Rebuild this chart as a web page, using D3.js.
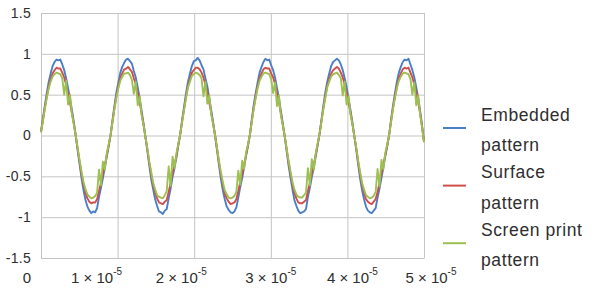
<!DOCTYPE html>
<html>
<head>
<meta charset="utf-8">
<script src="https://cdn.jsdelivr.net/npm/d3@7"></script>
<style>
  html, body { margin: 0; padding: 0; background: #fff; }
  svg { display: block; font-family: "Liberation Sans", Arial, sans-serif; }
</style>
</head>
<body>
<div id="chart"></div>
<script>
// ==========================================
// DATA (sampled waveform, 199 points over 0 .. 5e-5 s)
// ==========================================
const tStart = 0;
const tEnd = 5e-5;
const sampleCount = 199;

const seriesNames = ['Embedded pattern', 'Surface pattern', 'Screen print pattern'];
const legendLines = [['Embedded', 'pattern'], ['Surface', 'pattern'], ['Screen print', 'pattern']];

const embedded = [
  0.05,0.21,0.37,0.52,0.66,0.76,0.85,0.90,0.93,0.92,0.93,0.87,0.80,0.70,0.58,0.45,0.31,0.16,
  -0.01,-0.19,-0.36,-0.53,-0.67,-0.79,-0.87,-0.92,-0.95,-0.93,-0.94,-0.89,-0.75,-0.64,-0.52,-0.39,-0.26,-0.13,
  0.01,0.19,0.37,0.53,0.65,0.77,0.84,0.89,0.93,0.94,0.91,0.88,0.79,0.71,0.59,0.46,0.30,0.15,
  -0.02,-0.19,-0.37,-0.54,-0.66,-0.78,-0.86,-0.93,-0.94,-0.96,-0.92,-0.90,-0.77,-0.65,-0.51,-0.40,-0.27,-0.12,
  0.02,0.20,0.36,0.52,0.66,0.76,0.85,0.91,0.92,0.95,0.92,0.86,0.81,0.70,0.60,0.45,0.31,0.16,
  0.00,-0.18,-0.36,-0.53,-0.67,-0.78,-0.87,-0.91,-0.94,-0.95,-0.93,-0.88,-0.76,-0.63,-0.52,-0.39,-0.25,-0.13,
  0.01,0.20,0.38,0.52,0.65,0.77,0.84,0.90,0.94,0.92,0.93,0.86,0.80,0.71,0.58,0.46,0.30,0.15,
  -0.01,-0.19,-0.37,-0.52,-0.66,-0.79,-0.86,-0.92,-0.95,-0.94,-0.93,-0.90,-0.75,-0.64,-0.51,-0.40,-0.26,-0.12,
  0.02,0.19,0.37,0.53,0.66,0.76,0.85,0.90,0.92,0.94,0.92,0.87,0.80,0.70,0.59,0.45,0.31,0.16,
  -0.01,-0.18,-0.36,-0.53,-0.67,-0.78,-0.87,-0.92,-0.94,-0.95,-0.92,-0.89,-0.76,-0.65,-0.52,-0.39,-0.25,-0.13,
  0.01,0.20,0.37,0.52,0.66,0.77,0.84,0.90,0.93,0.92,0.94,0.87,0.80,0.71,0.59,0.46,0.30,0.12,-0.08
];

const surface = [
  0.04,0.19,0.34,0.48,0.60,0.69,0.76,0.80,0.83,0.82,0.82,0.77,0.71,0.62,0.52,0.40,0.27,0.14,
  -0.01,-0.17,-0.33,-0.48,-0.60,-0.70,-0.77,-0.81,-0.83,-0.82,-0.82,-0.78,-0.68,-0.58,-0.47,-0.36,-0.24,-0.12,
  0.01,0.18,0.34,0.49,0.60,0.70,0.76,0.81,0.82,0.84,0.81,0.78,0.70,0.63,0.52,0.41,0.27,0.13,
  -0.02,-0.17,-0.34,-0.48,-0.61,-0.70,-0.77,-0.82,-0.83,-0.84,-0.81,-0.79,-0.69,-0.58,-0.46,-0.36,-0.25,-0.11,
  0.02,0.18,0.33,0.48,0.61,0.69,0.77,0.80,0.83,0.83,0.81,0.77,0.71,0.62,0.53,0.40,0.28,0.14,
  0.00,-0.16,-0.33,-0.48,-0.60,-0.71,-0.77,-0.81,-0.84,-0.83,-0.82,-0.78,-0.68,-0.57,-0.47,-0.35,-0.24,-0.12,
  0.01,0.18,0.34,0.48,0.60,0.70,0.76,0.81,0.83,0.82,0.82,0.76,0.71,0.63,0.52,0.41,0.27,0.13,
  -0.01,-0.17,-0.33,-0.47,-0.60,-0.70,-0.77,-0.82,-0.83,-0.83,-0.81,-0.79,-0.68,-0.58,-0.46,-0.36,-0.24,-0.11,
  0.02,0.18,0.34,0.48,0.61,0.69,0.76,0.80,0.82,0.84,0.82,0.77,0.71,0.62,0.52,0.40,0.28,0.14,
  -0.01,-0.16,-0.33,-0.48,-0.61,-0.70,-0.78,-0.81,-0.83,-0.84,-0.81,-0.78,-0.69,-0.58,-0.47,-0.35,-0.24,-0.12,
  0.01,0.18,0.34,0.48,0.60,0.70,0.76,0.81,0.83,0.82,0.83,0.77,0.71,0.62,0.52,0.41,0.27,0.11,-0.07
];

const screenPrint = [
  0.04,0.18,0.33,0.46,0.58,0.66,0.72,0.75,0.77,0.76,0.75,0.70,0.50,0.67,0.38,0.50,0.26,0.13,
  -0.01,-0.16,-0.31,-0.45,-0.57,-0.66,-0.72,-0.75,-0.77,-0.76,-0.74,-0.70,-0.42,-0.61,-0.32,-0.42,-0.22,-0.11,
  0.01,0.17,0.33,0.47,0.58,0.67,0.72,0.76,0.76,0.77,0.74,0.68,0.51,0.66,0.37,0.48,0.25,0.13,
  -0.02,-0.16,-0.32,-0.45,-0.58,-0.66,-0.73,-0.75,-0.76,-0.77,-0.73,-0.68,-0.38,-0.62,-0.26,-0.40,-0.22,-0.10,
  0.02,0.17,0.32,0.46,0.59,0.66,0.73,0.75,0.77,0.76,0.74,0.70,0.48,0.66,0.39,0.49,0.26,0.14,
  0.00,-0.15,-0.31,-0.45,-0.57,-0.67,-0.72,-0.76,-0.77,-0.76,-0.74,-0.69,-0.43,-0.60,-0.31,-0.41,-0.21,-0.11,
  0.01,0.17,0.33,0.46,0.58,0.67,0.72,0.76,0.77,0.76,0.75,0.69,0.52,0.65,0.36,0.49,0.25,0.13,
  -0.01,-0.16,-0.31,-0.44,-0.57,-0.66,-0.72,-0.75,-0.76,-0.76,-0.73,-0.70,-0.40,-0.61,-0.29,-0.42,-0.22,-0.10,
  0.02,0.17,0.33,0.46,0.59,0.66,0.72,0.75,0.76,0.77,0.74,0.70,0.49,0.66,0.38,0.48,0.26,0.14,
  -0.01,-0.15,-0.31,-0.45,-0.58,-0.66,-0.73,-0.75,-0.77,-0.76,-0.74,-0.69,-0.41,-0.62,-0.30,-0.41,-0.21,-0.11,
  0.01,0.17,0.33,0.46,0.58,0.67,0.72,0.76,0.77,0.76,0.75,0.69,0.50,0.65,0.37,0.49,0.26,0.10,-0.08
];

const yTicks = [-1.5, -1, -0.5, 0, 0.5, 1, 1.5];
const yTickLabels = ['-1.5', '-1', '-0.5', '0', '0.5', '1', '1.5'];
const xTicks = [0, 1e-5, 2e-5, 3e-5, 4e-5, 5e-5];
const xTickMantissa = ['0', '1', '2', '3', '4', '5'];
const xTickExponent = ['', '-5', '-5', '-5', '-5', '-5'];

// ==========================================
// CHART
// ==========================================
const width = 595, height = 297;
const margin = {top: 13, right: 171, bottom: 39, left: 41};
const colors = ['#4a7fc8', '#cf4f4b', '#9cc152'];
const gridColor = '#c4c4c4';
const textColor = '#2e2e2e';
// label nudges to follow the original's uneven placement
const xLabelNudge = [-14, -21, -13, 0, 5, 7];

const svg = d3.select('#chart').append('svg')
  .attr('width', width).attr('height', height);

const x = d3.scaleLinear().domain([tStart, tEnd]).range([margin.left, width - margin.right]);
const y = d3.scaleLinear().domain([-1.5, 1.5]).range([height - margin.bottom, margin.top]);
const dt = (tEnd - tStart) / (sampleCount - 1);

// vertical grid
const gx = svg.append('g')
  .attr('transform', `translate(0,${height - margin.bottom})`)
  .call(d3.axisBottom(x).tickValues(xTicks).tickSize(-(height - margin.top - margin.bottom)).tickSizeOuter(0).tickFormat(''));
gx.selectAll('line').attr('stroke', gridColor).attr('stroke-width', 1);
gx.select('.domain').attr('stroke', gridColor);

// horizontal grid + y labels
const gy = svg.append('g')
  .attr('transform', `translate(${margin.left},0)`)
  .call(d3.axisLeft(y).tickValues(yTicks).tickSize(-(width - margin.left - margin.right)).tickSizeOuter(0)
    .tickPadding(10).tickFormat((d, i) => yTickLabels[i]));
gy.selectAll('line').attr('stroke', gridColor).attr('stroke-width', 1);
gy.select('.domain').attr('stroke', gridColor);
gy.selectAll('text').attr('font-size', '14px').attr('fill', textColor)
  .attr('font-family', '"Liberation Sans", Arial, sans-serif').attr('letter-spacing', '0.3px');

// x labels with superscripts
const xl = svg.append('g');
xTicks.forEach((d, i) => {
  const t = xl.append('text')
    .attr('x', x(d) + xLabelNudge[i]).attr('y', 283)
    .attr('text-anchor', 'middle').attr('font-size', '15px').attr('fill', textColor);
  if (xTickExponent[i]) {
    t.append('tspan').text(`${xTickMantissa[i]} \u00d7 10`);
    t.append('tspan').attr('dy', -8).attr('font-size', '10px').text(xTickExponent[i]);
  } else {
    t.text(xTickMantissa[i]);
  }
});

// series
const line = d3.line().x((d, i) => x(tStart + i * dt)).y(d => y(d));
[embedded, surface, screenPrint].forEach((s, k) => {
  svg.append('path').datum(s)
    .attr('fill', 'none').attr('stroke', colors[k]).attr('stroke-width', 1.9)
    .attr('stroke-linejoin', 'round').attr('d', line);
});

// legend
const legend = svg.append('g');
legendLines.forEach((lines, k) => {
  const ly = 128 + k * 57.6;
  legend.append('line').attr('x1', 443).attr('x2', 466).attr('y1', ly).attr('y2', ly)
    .attr('stroke', colors[k]).attr('stroke-width', 2);
  legend.append('text').attr('x', 481).attr('y', ly - 7.5).attr('font-size', '17.5px').attr('fill', textColor)
    .attr('letter-spacing', '0.6px').text(lines[0]);
  legend.append('text').attr('x', 481).attr('y', ly + 23).attr('font-size', '17.5px').attr('fill', textColor)
    .attr('letter-spacing', '0.6px').text(lines[1]);
});
</script>
</body>
</html>
